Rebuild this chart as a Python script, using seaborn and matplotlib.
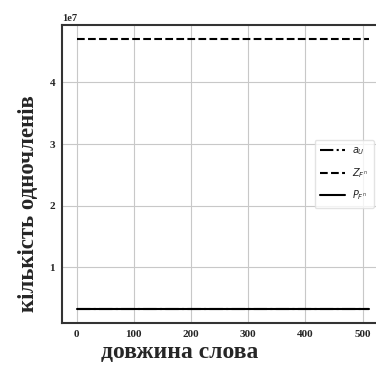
import numpy as np
import pandas as pd
import matplotlib
matplotlib.use("Agg")
import matplotlib.pyplot as plt
import seaborn as sns

word_len = [0, 64, 128, 192, 256, 320, 384, 448, 512]
a_u = [3.2e6] * 9
z_fn = [4.71e7] * 9
p_fn = [3.2e6] * 9
labels = ["$a_U$", "$Z_{F^n}$", "$P_{F^n}$"]

sns.set_theme(style="whitegrid")
plt.rcParams['font.family'] = ['Liberation Serif', 'DejaVu Serif']

fig = plt.figure(figsize=(3.76, 3.70), dpi=100)
ax = fig.add_axes([62/376, 1 - 323/370, (384 - 62)/376, (323 - 25)/370])

df = pd.DataFrame({"x": word_len, "a": a_u, "z": z_fn, "p": p_fn})
sns.lineplot(data=df, x="x", y="a", ax=ax, color="black", linestyle="-.", lw=1.5, label=labels[0])
sns.lineplot(data=df, x="x", y="z", ax=ax, color="black", linestyle="--", lw=1.5, label=labels[1])
sns.lineplot(data=df, x="x", y="p", ax=ax, color="black", linestyle="-", lw=1.5, label=labels[2])

ax.set_xticks([0, 100, 200, 300, 400, 500])
ax.set_yticks([1e7, 2e7, 3e7, 4e7])
ax.tick_params(axis="both", labelsize=8, length=3, color="black", direction="out", pad=2)
for t in ax.get_xticklabels() + ax.get_yticklabels():
    t.set_fontweight("bold")
ax.yaxis.get_offset_text().set_fontsize(7.5)
ax.yaxis.get_offset_text().set_fontweight("bold")
ax.grid(True, color="#c8c8c8", lw=0.8)
for s in ["left", "bottom", "top"]:
    ax.spines[s].set_color("#333333")
    ax.spines[s].set_linewidth(1.5)
ax.set_xlabel("довжина слова", fontsize=17, fontweight="bold")
ax.set_ylabel("кількість одночленів", fontsize=16.5, fontweight="bold")
ax.xaxis.set_label_coords(0.366, -0.065)
ax.yaxis.set_label_coords(-0.07, 0.40)
leg = ax.legend(loc="center right", bbox_to_anchor=(0.985, 0.5), fontsize=7, frameon=True,
                handlelength=2.5, borderpad=0.6, labelspacing=0.9)
leg.get_frame().set_edgecolor("#dddddd")
fig.savefig("out.png", dpi=100)
